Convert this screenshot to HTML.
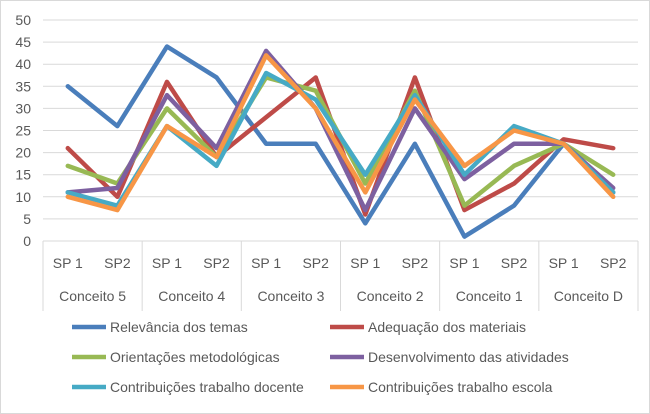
<!DOCTYPE html>
<html><head><meta charset="utf-8"><style>
body{margin:0;background:#fff}
svg{display:block;font-family:"Liberation Sans",sans-serif}
</style></head><body>
<svg id="c" width="650" height="414">
<rect x="0.5" y="0.5" width="649" height="413" fill="#fff" stroke="#d9d9d9"/>
<g id="grid"></g><g id="axis"></g><g id="series"></g><g id="legend"></g>
</svg>
<script>
const subLabels=["SP 1","SP2","SP 1","SP2","SP 1","SP2","SP 1","SP2","SP 1","SP2","SP 1","SP2"];
const groups=["Conceito 5","Conceito 4","Conceito 3","Conceito 2","Conceito 1","Conceito D"];
const yTicks=[0,5,10,15,20,25,30,35,40,45,50];
const seriesNames=["Relevância dos temas","Adequação dos materiais","Orientações metodológicas","Desenvolvimento das atividades","Contribuições trabalho docente","Contribuições trabalho escola"];
const colors=["#4a7ebb","#be4b48","#98b954","#7d60a0","#46aac5","#f79646"];
const s1=[35,26,44,37,22,22,4,22,1,8,22,11];
const s2=[21,10,36,19,28,37,6,37,7,13,23,21];
const s3=[17,13,30,19,37,34,13,34,8,17,22,15];
const s4=[11,12,33,21,43,30,7,30,14,22,22,12];
const s5=[11,8,26,17,38,32,15,33,15,26,22,11];
const s6=[10,7,26,19,42,30,11,32,17,25,22,10];
const allSeries=[s1,s2,s3,s4,s5,s6];
const NS="http://www.w3.org/2000/svg";
const x0=43,x1=638,y0=241,y1=20,yMax=50;
const step=(x1-x0)/subLabels.length;
const X=i=>x0+step*(i+0.5);
const Y=v=>y0-(v/yMax)*(y0-y1);
function mk(t,a,p){const e=document.createElementNS(NS,t);for(const k in a)e.setAttribute(k,a[k]);p.appendChild(e);return e;}
const grid=document.getElementById('grid'),axis=document.getElementById('axis'),ser=document.getElementById('series'),leg=document.getElementById('legend');
yTicks.forEach(v=>{
 const l=mk('line',{x1:x0,x2:x1,y1:Y(v),y2:Y(v),stroke:'#d9d9d9','stroke-width':1},grid);
 
 
 const t=mk('text',{x:31,y:Y(v)+5,'text-anchor':'end','font-size':14,fill:'#595959'},axis);
 t.textContent=v;
 
 
});
for(let g=0;g<=groups.length;g++){
 const xx=x0+g*2*step;
 const l=mk('line',{x1:xx,x2:xx,y1:y0,y2:311,stroke:'#d9d9d9'},axis);
 
 
}
subLabels.forEach((s,i)=>{
 const t=mk('text',{x:X(i),y:268,'text-anchor':'middle','font-size':14,fill:'#595959'},axis);
 t.textContent=s;
 
 
});
groups.forEach((g,i)=>{
 const t=mk('text',{x:x0+(i*2+1)*step,y:301,'text-anchor':'middle','font-size':14,fill:'#595959'},axis);
 t.textContent=g;
 
 
});
allSeries.forEach((d,k)=>{
 const p=mk('polyline',{points:d.map((v,i)=>X(i)+','+Y(v)).join(' '),fill:'none',stroke:colors[k],'stroke-width':4.5,'stroke-linejoin':'round','stroke-linecap':'round'},ser);
 
 
 const col=k%2,row=Math.floor(k/2);
 const lx=col?330:72,ly=327+row*30;
 const l=mk('line',{x1:lx,x2:lx+34,y1:ly,y2:ly,stroke:colors[k],'stroke-width':4.5},leg);
 
 
 const t=mk('text',{x:lx+38,y:ly+5,'font-size':14,fill:'#595959'},leg);
 t.textContent=seriesNames[k];
 
 
});
</script>
</body></html>
